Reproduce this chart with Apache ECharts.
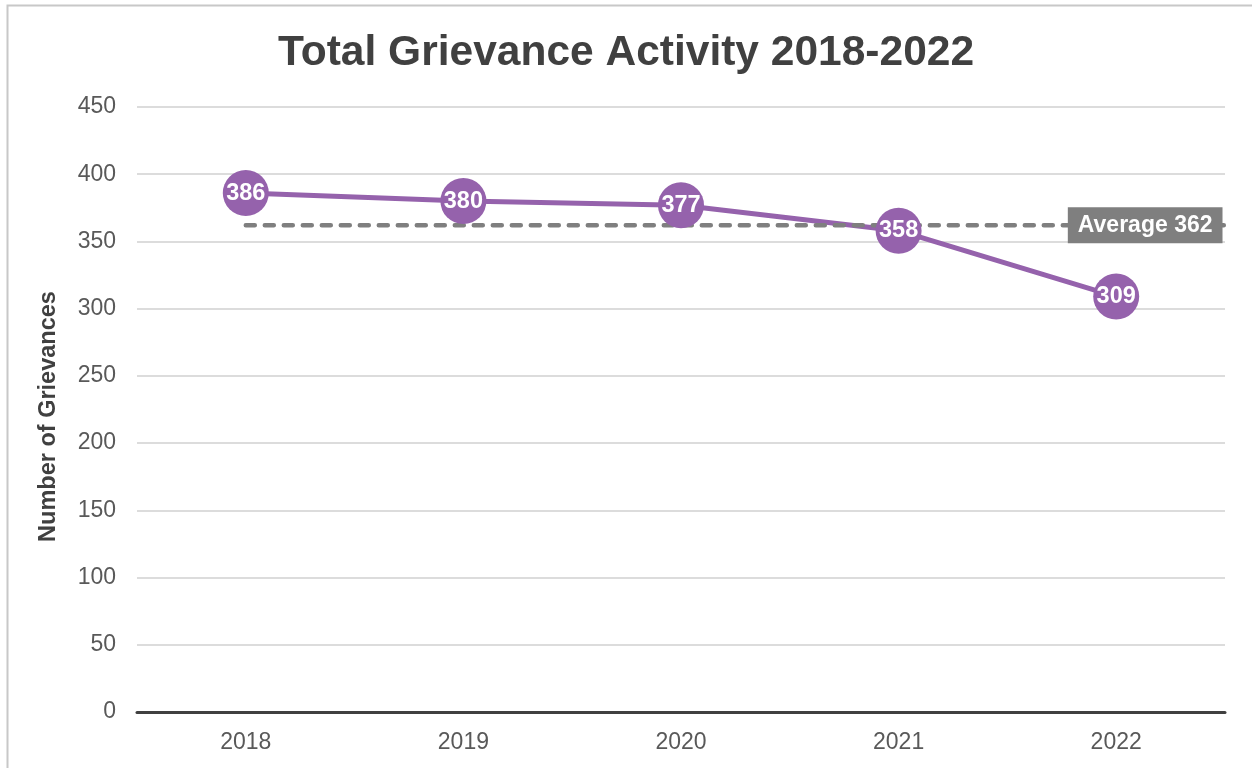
<!DOCTYPE html>
<html>
<head>
<meta charset="utf-8">
<script src="https://cdn.jsdelivr.net/npm/echarts@6/dist/echarts.min.js"></script>
<style>html,body{margin:0;padding:0;background:#fff;}#c{width:1252px;height:768px;}</style>
</head>
<body>
<div id="c"></div>
<script>
const categories = ['2018', '2019', '2020', '2021', '2022'];
const grievances = [386, 380, 377, 358, 309];
const averageValue = 362;
const averageLabel = 'Average 362';
const yTicks = [0, 50, 100, 150, 200, 250, 300, 350, 400, 450];

const chart = echarts.init(document.getElementById('c'));
const font = '"Liberation Sans", Arial, sans-serif';
const lastX = categories.length - 0.5;
const avgData = [
  [0, averageValue],
  {
    value: [lastX, averageValue],
    label: {
      show: true, formatter: averageLabel, position: 'left', distance: 2,
      backgroundColor: '#7f7f7f', color: '#fff', fontSize: 23, fontWeight: 'bold',
      padding: [7, 10, 6, 10], fontFamily: font
    }
  }
];
const purple = '#9562AC';

chart.setOption({
  animation: false,
  textStyle: { fontFamily: font },
  graphic: [{
    type: 'rect', left: 5, top: 3, shape: { width: 1300, height: 900 },
    style: { fill: 'none', stroke: '#c8c8c8', lineWidth: 2 }, z: -10
  }],
  title: {
    text: 'Total Grievance Activity 2018-2022',
    left: 'center', top: 27,
    textStyle: { fontSize: 42.5, fontWeight: 'bold', color: '#404040', fontFamily: font }
  },
  grid: { left: 137, right: 27, top: 107, bottom: 56 },
  xAxis: [{
    type: 'category', data: categories, boundaryGap: true,
    axisLine: { lineStyle: { color: '#404040', width: 3 } },
    axisTick: { show: false },
    axisLabel: { fontSize: 23, color: '#595959', margin: 19, fontFamily: font }
  }, {
    type: 'value', min: -0.5, max: lastX, show: false
  }],
  yAxis: {
    type: 'value', min: yTicks[0], max: yTicks[yTicks.length - 1], interval: yTicks[1] - yTicks[0],
    name: 'Number of Grievances', nameLocation: 'middle', nameGap: 76,
    nameTextStyle: { fontSize: 23.5, fontWeight: 'bold', color: '#404040', fontFamily: font, padding: [0, 14, 0, 0] },
    axisLine: { show: false }, axisTick: { show: false },
    axisLabel: { fontSize: 23, color: '#595959', margin: 21, fontFamily: font },
    splitLine: { lineStyle: { color: '#d0d0d0', width: 1.5 } }
  },
  series: [{
    name: 'GrievancesLine', type: 'line', data: grievances, z: 2,
    symbol: 'none',
    lineStyle: { color: purple, width: 5 }
  }, {
    name: 'Average', type: 'line', xAxisIndex: 1, data: avgData,
    symbol: 'circle', symbolSize: 1, z: 3,
    itemStyle: { color: 'rgba(0,0,0,0)' },
    lineStyle: { color: '#7f7f7f', width: 4.5, type: [9, 10], cap: 'round' }
  }, {
    name: 'Grievances', type: 'line', data: grievances, z: 4,
    symbol: 'circle', symbolSize: 46,
    lineStyle: { width: 0, opacity: 0 },
    itemStyle: { color: purple },
    label: {
      show: true, position: 'inside', color: '#fff', fontSize: 23.5, fontWeight: 'bold', fontFamily: font
    }
  }]
});
</script>
</body>
</html>
